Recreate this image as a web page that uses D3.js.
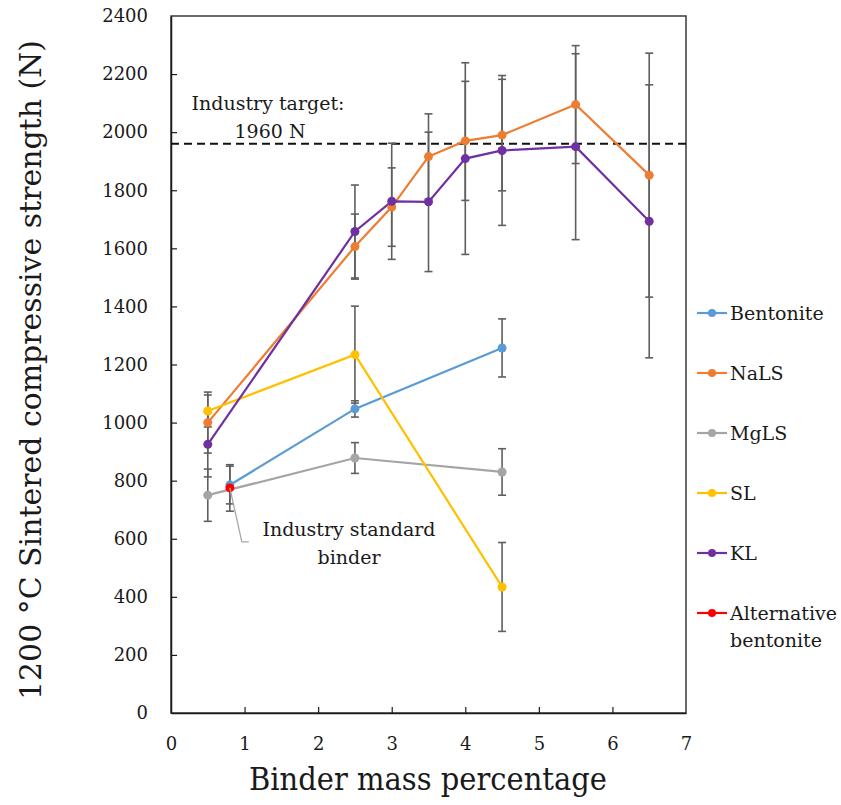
<!DOCTYPE html>
<html>
<head>
<meta charset="utf-8">
<script src="https://cdn.jsdelivr.net/npm/d3@7"></script>
<style>
  html, body { margin: 0; padding: 0; background: #fff; }
  svg { display: block; }
  text { font-family: "DejaVu Serif", serif; fill: #1a1a1a; }
</style>
</head>
<body>
<svg id="chart" width="841" height="805"></svg>
<script>
// Sintered compressive strength (N) against binder mass percentage, mean ± error
const seriesNames = ["Bentonite", "NaLS", "MgLS", "SL", "KL", "Alternative bentonite"];
const seriesColors = ["#5B9BD5", "#ED7D31", "#A5A5A5", "#FFC000", "#7030A0", "#FF0000"];

const bentoniteX = [0.8, 2.5, 4.5];
const bentoniteY = [785, 1047, 1257];
const bentoniteErr = [65, 28, 100];

const nalsX = [0.5, 2.5, 3, 3.5, 4, 4.5, 5.5, 6.5];
const nalsY = [1000, 1606, 1742, 1916, 1970, 1990, 2095, 1852];
const nalsErr = [105, 112, 135, 147, 205, 192, 203, 420];

const mglsX = [0.5, 2.5, 4.5];
const mglsY = [750, 878, 830];
const mglsErr = [90, 53, 80];

const slX = [0.5, 2.5, 4.5];
const slY = [1040, 1234, 434];
const slErr = [55, 167, 153];

const klX = [0.5, 2.5, 3, 3.5, 4, 4.5, 5.5, 6.5];
const klY = [925, 1658, 1762, 1760, 1909, 1937, 1950, 1693];
const klErr = [112, 160, 200, 240, 330, 258, 320, 470];

const altX = [0.8];
const altY = [775];
const altErr = [80];

const xTicks = [0, 1, 2, 3, 4, 5, 6, 7];
const yTicks = [0, 200, 400, 600, 800, 1000, 1200, 1400, 1600, 1800, 2000, 2200, 2400];
const targetStrength = 1960;

const seriesX = [bentoniteX, nalsX, mglsX, slX, klX, altX];
const seriesY = [bentoniteY, nalsY, mglsY, slY, klY, altY];
const seriesErr = [bentoniteErr, nalsErr, mglsErr, slErr, klErr, altErr];

const series = seriesNames.map((name, i) => ({
  name,
  color: seriesColors[i],
  points: seriesX[i].map((x, j) => ({ x, y: seriesY[i][j], e: seriesErr[i][j] }))
}));

const svg = d3.select("#chart");
const margin = { left: 171, right: 155, top: 16, bottom: 92 };
const W = 841, H = 805;
const x = d3.scaleLinear().domain([0, 7]).range([margin.left, W - margin.right]);
const y = d3.scaleLinear().domain([0, 2400]).range([H - margin.bottom, margin.top]);

// plot frame
svg.append("rect")
  .attr("x", x(0)).attr("y", y(2400))
  .attr("width", x(7) - x(0)).attr("height", y(0) - y(2400))
  .attr("fill", "none").attr("stroke", "#3a3a3a").attr("stroke-width", 1.5);

// axes with inward ticks
const xAxis = svg.append("g")
  .attr("transform", `translate(0,${y(0)})`)
  .call(d3.axisBottom(x).tickValues(xTicks).tickFormat(d3.format("d"))
    .tickSizeInner(-6).tickSizeOuter(0).tickPadding(24));
const yAxis = svg.append("g")
  .attr("transform", `translate(${x(0)},0)`)
  .call(d3.axisLeft(y).tickValues(yTicks).tickFormat(d3.format("d"))
    .tickSizeInner(-6).tickSizeOuter(0).tickPadding(23));
[xAxis, yAxis].forEach(g => {
  g.select(".domain").attr("stroke", "#1a1a1a").attr("stroke-width", 1.5);
  g.selectAll(".tick line").attr("stroke", "#1a1a1a").attr("stroke-width", 1.2);
  g.selectAll(".tick text").style("font-family", "'DejaVu Serif', serif")
    .style("font-size", "18px").attr("fill", "#1a1a1a");
});
xAxis.selectAll(".tick").filter(d => d === 0 || d === 7).select("line").remove();
yAxis.selectAll(".tick").filter(d => d === 0 || d === 2400).select("line").remove();

// axis titles
svg.append("text")
  .attr("x", 428).attr("y", 790)
  .attr("text-anchor", "middle")
  .attr("textLength", 358).attr("lengthAdjust", "spacingAndGlyphs")
  .style("font-size", "31px")
  .text("Binder mass percentage");
svg.append("text")
  .attr("transform", `translate(41,${370}) rotate(-90)`)
  .attr("text-anchor", "middle")
  .attr("textLength", 660).attr("lengthAdjust", "spacingAndGlyphs")
  .style("font-size", "29px")
  .text("1200 °C Sintered compressive strength (N)");

// industry target line
svg.append("line")
  .attr("x1", x(0)).attr("x2", x(7))
  .attr("y1", y(targetStrength)).attr("y2", y(targetStrength))
  .attr("stroke", "#111").attr("stroke-width", 2)
  .attr("stroke-dasharray", "8,5");
const tgt = svg.append("text").attr("text-anchor", "middle").style("font-size", "19px");
tgt.append("tspan").attr("x", 268).attr("y", 110).text("Industry target:");
tgt.append("tspan").attr("x", 270).attr("y", 138).text(`${targetStrength} N`);

// error bars
const capW = 4;
const errG = svg.append("g").attr("stroke", "#5f5f5f").attr("stroke-width", 1.6);
series.forEach(s => {
  s.points.forEach(p => {
    const cx = x(p.x), top = y(p.y + p.e), bot = y(p.y - p.e);
    errG.append("line").attr("x1", cx).attr("x2", cx).attr("y1", top).attr("y2", bot);
    errG.append("line").attr("x1", cx - capW).attr("x2", cx + capW).attr("y1", top).attr("y2", top);
    errG.append("line").attr("x1", cx - capW).attr("x2", cx + capW).attr("y1", bot).attr("y2", bot);
  });
});

// series lines and markers
const line = d3.line().x(d => x(d.x)).y(d => y(d.y));
series.forEach(s => {
  svg.append("path").datum(s.points)
    .attr("d", line).attr("fill", "none")
    .attr("stroke", s.color).attr("stroke-width", 2.2);
});
series.forEach(s => {
  svg.append("g").selectAll("circle").data(s.points).join("circle")
    .attr("cx", d => x(d.x)).attr("cy", d => y(d.y)).attr("r", 4.5)
    .attr("fill", s.color);
});

// callout for the reference binder
const alt = series[5].points[0];
svg.append("polyline")
  .attr("points", `${x(alt.x)},${y(alt.y)} ${x(alt.x) + 12},${y(alt.y) + 54} ${x(alt.x) + 19},${y(alt.y) + 54}`)
  .attr("fill", "none").attr("stroke", "#a8a8a8").attr("stroke-width", 1.3);
const std = svg.append("text").attr("text-anchor", "middle").style("font-size", "19px");
std.append("tspan").attr("x", 349).attr("y", 536).text("Industry standard");
std.append("tspan").attr("x", 349).attr("y", 564).text("binder");

// legend
const legend = svg.append("g");
const legendY = [313, 373, 433, 493, 553, 613];
series.forEach((s, i) => {
  const g = legend.append("g").attr("transform", `translate(697,${legendY[i]})`);
  g.append("line").attr("x1", 0).attr("x2", 30).attr("stroke", s.color).attr("stroke-width", 2.2);
  g.append("circle").attr("cx", 15).attr("r", 4).attr("fill", s.color);
  const words = s.name.split(" ");
  const t = g.append("text").attr("x", 33).attr("y", 7).style("font-size", "19px");
  words.forEach((w, k) => t.append("tspan").attr("x", 33).attr("dy", k === 0 ? 0 : 27).text(w));
});
</script>
</body>
</html>
